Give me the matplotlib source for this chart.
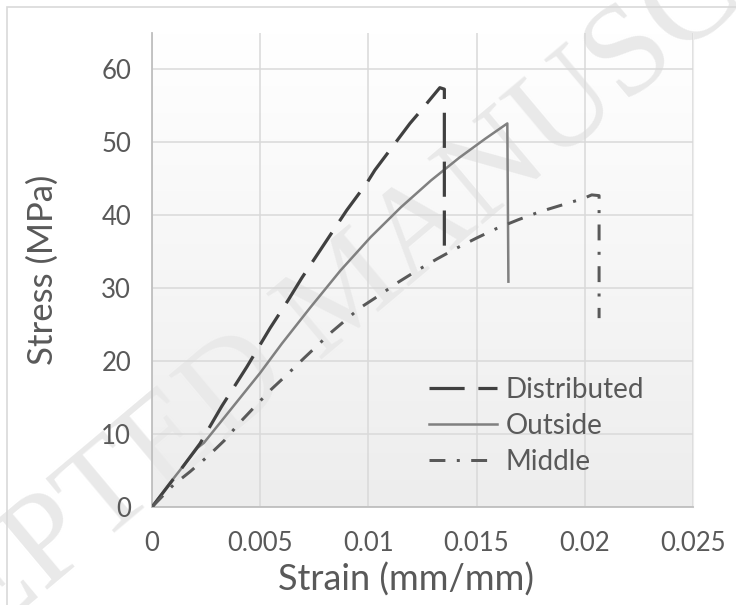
import numpy as np
import matplotlib
matplotlib.use("Agg")
import matplotlib.pyplot as plt
from matplotlib.patches import Rectangle

# stress-strain data
distributed_strain = [0, 0.00137, 0.00222, 0.00322, 0.00438, 0.00545, 0.0063, 0.00692,
                      0.00815, 0.0090, 0.00992, 0.0103, 0.01192, 0.01238, 0.0133,
                      0.01351, 0.01351]
distributed_stress = [0, 5.3, 8.7, 13.8, 19.2, 24.5, 28.4, 31.4,
                      36.9, 40.7, 44.4, 46.2, 52.6, 54.2, 57.5,
                      57.3, 34.0]

outside_strain = [0, 0.00083, 0.0021, 0.0024, 0.0050, 0.0060, 0.0073, 0.0087,
                  0.0101, 0.0115, 0.0129, 0.0142, 0.0154, 0.01642, 0.01647]
outside_stress = [0, 3.3, 8.1, 8.8, 18.4, 22.4, 27.3, 32.4,
                  37.0, 41.1, 44.8, 47.9, 50.5, 52.6, 30.9]

middle_strain = [0, 0.00098, 0.00176, 0.0026, 0.00337, 0.00403, 0.00476, 0.0055,
                 0.00622, 0.00702, 0.0083, 0.00961, 0.01054, 0.01131, 0.01223,
                 0.01316, 0.01408, 0.01501, 0.01593, 0.01693, 0.01793, 0.01893,
                 0.01993, 0.02032, 0.02066, 0.02066]
middle_stress = [0, 3.0, 4.85, 7.0, 9.2, 11.5, 13.8, 16.1,
                 18.1, 20.4, 24.0, 27.3, 29.1, 30.7, 32.4,
                 34.0, 35.5, 36.9, 38.2, 39.4, 40.5, 41.4,
                 42.3, 42.8, 42.7, 25.9]

x_ticks = [0, 0.005, 0.01, 0.015, 0.02, 0.025]
x_tick_labels = ["0", "0.005", "0.01", "0.015", "0.02", "0.025"]
y_ticks = [0, 10, 20, 30, 40, 50, 60]

plt.rcParams['font.family'] = ['Lato', 'DejaVu Sans']
txt = '#595959'

fig = plt.figure(figsize=(7.36, 6.05), dpi=100)
ax = fig.add_axes([152 / 736, 1 - 507 / 605, 541 / 736, 474 / 605])

# chart area border
fig.patches.append(Rectangle((7 / 736, -0.05), 1.1, 1.05 - 7 / 605, transform=fig.transFigure,
                             fill=False, edgecolor='#d9d9d9', linewidth=1.2))

# gradient plot background
grad = np.linspace(1.0, 0.0, 256).reshape(-1, 1)
ax.imshow(grad, extent=[0, 0.025, 0, 65], aspect='auto', origin='upper',
          cmap=matplotlib.colors.LinearSegmentedColormap.from_list('g', ['#ededed', '#ffffff']),
          vmin=0, vmax=1, zorder=0)

ax.plot(distributed_strain, distributed_stress, color='#404040', lw=2.3,
        linestyle=(0, (11, 4.3)), label='Distributed', zorder=4)
ax.plot(outside_strain, outside_stress, color='#808080', lw=1.8,
        label='Outside', zorder=3)
ax.plot(middle_strain, middle_stress, color='#595959', lw=2.16,
        linestyle=(0, (5.3, 3.8, 1, 3.8)), label='Middle', zorder=4)

ax.set_xlim(0, 0.025)
ax.set_ylim(0, 65)
ax.set_xticks(x_ticks)
ax.set_xticklabels(x_tick_labels)
ax.set_yticks(y_ticks)
ax.grid(True, color='#d9d9d9', linewidth=1.1)
ax.set_axisbelow(True)
ax.tick_params(length=0, labelsize=18.5, labelcolor=txt)
ax.tick_params(axis='y', pad=15)
ax.tick_params(axis='x', pad=17)

ax.spines['top'].set_visible(False)
ax.spines['right'].set_color('#ececec')
ax.spines['left'].set_color('#bfbfbf')
ax.spines['bottom'].set_color('#bfbfbf')
ax.spines['left'].set_linewidth(1.3)
ax.spines['bottom'].set_linewidth(1.3)

ax.set_xlabel('Strain (mm/mm)', fontsize=26, color=txt)
ax.xaxis.set_label_coords(0.47, -0.117)
ax.set_ylabel('Stress (MPa)', fontsize=25, color=txt)
ax.yaxis.set_label_coords(-0.172, 0.5)

leg = ax.legend(loc='center left', bbox_to_anchor=(0.512, 0.171), frameon=False,
                fontsize=20, handlelength=2.45, handletextpad=0.32, labelspacing=0.36,
                borderpad=0, borderaxespad=0)
for t in leg.get_texts():
    t.set_color(txt)

# watermark
ax.text(350 / 736, 1 - 294 / 605, 'ACCEPTED MANUSCRIPT', transform=fig.transFigure,
        rotation=40, fontsize=94, family='Liberation Serif', color='#e9e9e9',
        ha='center', va='center', rotation_mode='anchor', clip_on=False, zorder=0.3)

fig.savefig('out.png', dpi=100)
